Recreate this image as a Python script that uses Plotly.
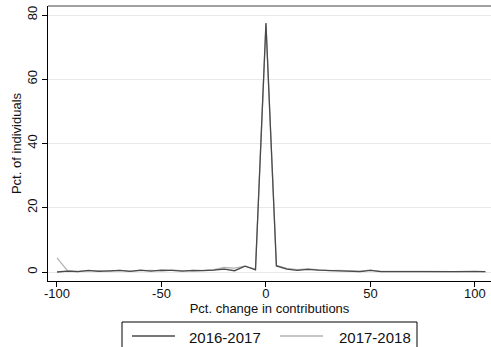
import plotly.graph_objects as go

pct_change = [-100, -95, -90, -85, -80, -75, -70, -65, -60, -55, -50, -45, -40, -35, -30,
              -25, -20, -15, -10, -5, 0, 5, 10, 15, 20, 25, 30, 35, 40, 45, 50, 55, 60,
              65, 70, 75, 80, 85, 90, 95, 100, 105]
share_2016_2017 = [0.0, 0.3, 0.1, 0.5, 0.2, 0.4, 0.5, 0.2, 0.6, 0.3, 0.6, 0.5, 0.3, 0.5, 0.4,
                   0.6, 0.9, 0.4, 1.8, 0.7, 77.5, 1.9, 0.9, 0.5, 0.8, 0.6, 0.5, 0.3, 0.4, 0.1,
                   0.5, 0.1, 0.1, 0.2, 0.1, 0.1, 0.2, 0.1, 0.1, 0.1, 0.2, 0.1]
share_2017_2018 = [4.4, 0.4, 0.2, 0.3, 0.4, 0.2, 0.5, 0.3, 0.4, 0.5, 0.3, 0.6, 0.4, 0.3, 0.5,
                   0.7, 1.4, 1.2, 1.8, 0.9, 77.0, 2.1, 1.1, 0.7, 1.0, 0.7, 0.4, 0.5, 0.3, 0.3,
                   0.6, 0.2, 0.2, 0.1, 0.2, 0.2, 0.1, 0.1, 0.1, 0.2, 0.3, 0.1]
series_names = ["2016-2017", "2017-2018"]
x_ticks = [-100, -50, 0, 50, 100]
x_tick_labels = ["-100", "-50", "0", "50", "100"]
y_ticks = [0, 20, 40, 60, 80]
y_tick_labels = ["0", "20", "40", "60", "80"]

dark = "#4a4a4a"
light = "#b4b4b4"
font = "Liberation Sans, Arial, sans-serif"

fig = go.Figure()
fig.add_trace(go.Scatter(x=pct_change, y=share_2017_2018, mode="lines",
                         line=dict(color=light, width=1.3), name=series_names[1], showlegend=False))
fig.add_trace(go.Scatter(x=pct_change, y=share_2016_2017, mode="lines",
                         line=dict(color=dark, width=1.3), name=series_names[0], showlegend=False))

W, H = 491, 347
ml, mr, mt, mb = 48, 0, 6, 66
fig.update_layout(
    width=W, height=H,
    margin=dict(l=ml, r=mr, t=mt, b=mb),
    paper_bgcolor="white", plot_bgcolor="white",
    font=dict(family=font, size=13, color="#111"),
    xaxis=dict(range=[-104.3, 107.7], tickvals=x_ticks, ticktext=x_tick_labels,
               ticks="", ticklen=0,
               minor=dict(tickvals=x_ticks, ticks="outside", ticklen=5, tickcolor="#000",
                          showgrid=False),
               showline=True, linecolor="#000", linewidth=1.2,
               showgrid=False, zeroline=False,
               title=dict(text="Pct. change in contributions", standoff=1, font=dict(size=13))),
    yaxis=dict(range=[-2.8, 82.8], tickvals=y_ticks, ticktext=y_tick_labels,
               ticks="outside", ticklen=5,
               tickcolor="#000", showline=True, linecolor="#000", linewidth=1.2,
               showgrid=True, gridcolor="#e8e8e8", gridwidth=1, zeroline=False,
               tickangle=-90,
               title=dict(text="Pct. of individuals", standoff=0, font=dict(size=13))),
    showlegend=False,
)

# top border of plot region
fig.add_shape(type="line", xref="paper", yref="paper", x0=0, x1=1, y0=1, y1=1,
              line=dict(color="#808080", width=1.5))

# custom legend (box extends beyond the bottom edge like the reference)
ph = H - mt - mb
pw = W - ml - mr
def px_x(p):
    return (p - ml) / pw
def px_y(p):
    return (H - mb - p) / ph

fig.add_shape(type="rect", xref="paper", yref="paper",
              x0=px_x(122), x1=px_x(417), y0=px_y(322), y1=px_y(360),
              line=dict(color="#000", width=1), fillcolor="rgba(0,0,0,0)")
legend_items = [(series_names[0], dark, 132, 175, 187), (series_names[1], light, 280, 323, 337)]
for name, col, lx0, lx1, tx in legend_items:
    fig.add_shape(type="line", xref="paper", yref="paper",
                  x0=px_x(lx0), x1=px_x(lx1), y0=px_y(336), y1=px_y(336),
                  line=dict(color=col, width=1.3))
    fig.add_annotation(text=name, xref="paper", yref="paper", x=px_x(tx), y=px_y(337),
                       xanchor="left", yanchor="middle", showarrow=False,
                       font=dict(size=15, family=font, color="#111"))

fig.write_html("out.html")
